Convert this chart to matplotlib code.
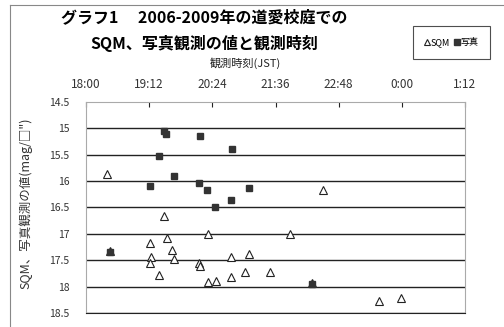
# -*- coding: utf-8 -*-
import matplotlib
matplotlib.use("Agg")
import matplotlib.pyplot as plt
from matplotlib.lines import Line2D

# 観測時刻 (時, 小数) と 値 (mag/□")
sqm_time = [18.39, 18.45, 19.49, 20.32, 19.53, 19.22, 19.64, 19.23, 19.22,
            19.67, 20.15, 20.16, 20.76, 21.10, 19.39, 20.31, 20.47, 20.75,
            21.02, 21.49, 21.88, 22.50, 22.29, 23.56, 23.98]
sqm_value = [15.86, 17.32, 16.67, 17.01, 17.08, 17.18, 17.31, 17.44, 17.55,
             17.47, 17.55, 17.61, 17.44, 17.39, 17.78, 17.92, 17.89, 17.81,
             17.73, 17.73, 17.00, 16.18, 17.93, 18.27, 18.22]

photo_time = [19.49, 19.52, 20.17, 19.39, 20.78, 19.68, 19.22, 20.15, 20.30,
              21.10, 20.75, 20.46, 18.45, 22.29]
photo_value = [15.06, 15.12, 15.14, 15.52, 15.40, 15.90, 16.10, 16.03, 16.18,
               16.13, 16.36, 16.50, 17.35, 17.96]

x_ticks = [18.0, 19.2, 20.4, 21.6, 22.8, 24.0, 25.2]
x_labels = ["18:00", "19:12", "20:24", "21:36", "22:48", "0:00", "1:12"]
y_ticks = [14.5, 15, 15.5, 16, 16.5, 17, 17.5, 18, 18.5]
y_labels = ["14.5", "15", "15.5", "16", "16.5", "17", "17.5", "18", "18.5"]


def main():
    plt.rcParams['font.family'] = ['Noto Sans CJK JP', 'DejaVu Sans']

    W, H = 504, 327
    fig = plt.figure(figsize=(W / 100, H / 100), dpi=100)
    fig.patch.set_facecolor('white')

    # プロット領域
    ax = fig.add_axes([86 / W, 1 - 313 / H, (465 - 86) / W, (313 - 101.7) / H])

    ax.plot(sqm_time, sqm_value, linestyle='none', marker='^', markersize=5.5,
            markerfacecolor='white', markeredgecolor='#222222',
            markeredgewidth=0.8, label='SQM', zorder=3)
    ax.plot(photo_time, photo_value, linestyle='none', marker='s', markersize=5,
            markerfacecolor='#333333', markeredgecolor='#333333',
            label='写真', zorder=4)

    ax.set_xlim(x_ticks[0], x_ticks[-1])
    ax.set_ylim(18.5, 14.5)
    ax.set_xticks(x_ticks)
    ax.set_xticklabels(x_labels)
    ax.set_yticks(y_ticks)
    ax.set_yticklabels(y_labels)

    ax.xaxis.tick_top()
    ax.xaxis.set_label_position('top')
    ax.tick_params(axis='x', direction='in', length=3.5, width=0.8,
                   color='#222222', labelsize=8.5, labelcolor='#333333', pad=8)
    ax.tick_params(axis='y', length=0, labelsize=7.5, labelcolor='#333333', pad=12)

    # 横線
    ax.yaxis.grid(True, color='#222222', linewidth=1.0)
    for line, val in zip(ax.get_ygridlines(), y_ticks):
        if val == 14.5:
            line.set_visible(False)
    ax.set_axisbelow(True)

    for side in ['top', 'left', 'right']:
        ax.spines[side].set_color('#aaaaaa')
        ax.spines[side].set_linewidth(0.8)
    ax.spines['bottom'].set_color('#222222')

    ax.set_xlabel("観測時刻(JST)", fontsize=8, color='#222222')
    ax.xaxis.set_label_coords((245 - 86) / (465 - 86), 1.0 + (101.7 - 67) / (313 - 101.7))
    ax.set_ylabel("SQM、写真観測の値(mag/□\")", fontsize=9, color='#333333')
    ax.yaxis.set_label_coords(-(86 - 32) / (465 - 86), 0.52)

    # タイトル
    fig.text(204 / W, 1 - 17 / H, "グラフ1　 2006-2009年の道愛校庭での",
             ha='center', va='center', fontsize=11.5, fontweight='bold')
    fig.text(204 / W, 1 - 43 / H, "SQM、写真観測の値と観測時刻",
             ha='center', va='center', fontsize=11.5, fontweight='bold')

    # 凡例
    leg = ax.legend(loc='center', bbox_to_anchor=(451.5 / W, 1 - 42.5 / H),
                    bbox_transform=fig.transFigure, ncol=2, fontsize=6.5,
                    handlelength=0.5, handletextpad=0.2, columnspacing=0.5,
                    borderpad=1.3, frameon=True, fancybox=False,
                    markerscale=0.8)
    leg.get_frame().set_edgecolor('#222222')
    leg.get_frame().set_linewidth(0.8)

    # 外枠
    fig.add_artist(Line2D([9.5 / W, 9.5 / W], [0, 1 - 5 / H],
                          transform=fig.transFigure, color='#888888', lw=0.8))
    fig.add_artist(Line2D([9.5 / W, 1], [1 - 5 / H, 1 - 5 / H],
                          transform=fig.transFigure, color='#888888', lw=0.8))

    fig.savefig('out.png', dpi=100)


if __name__ == '__main__':
    main()
